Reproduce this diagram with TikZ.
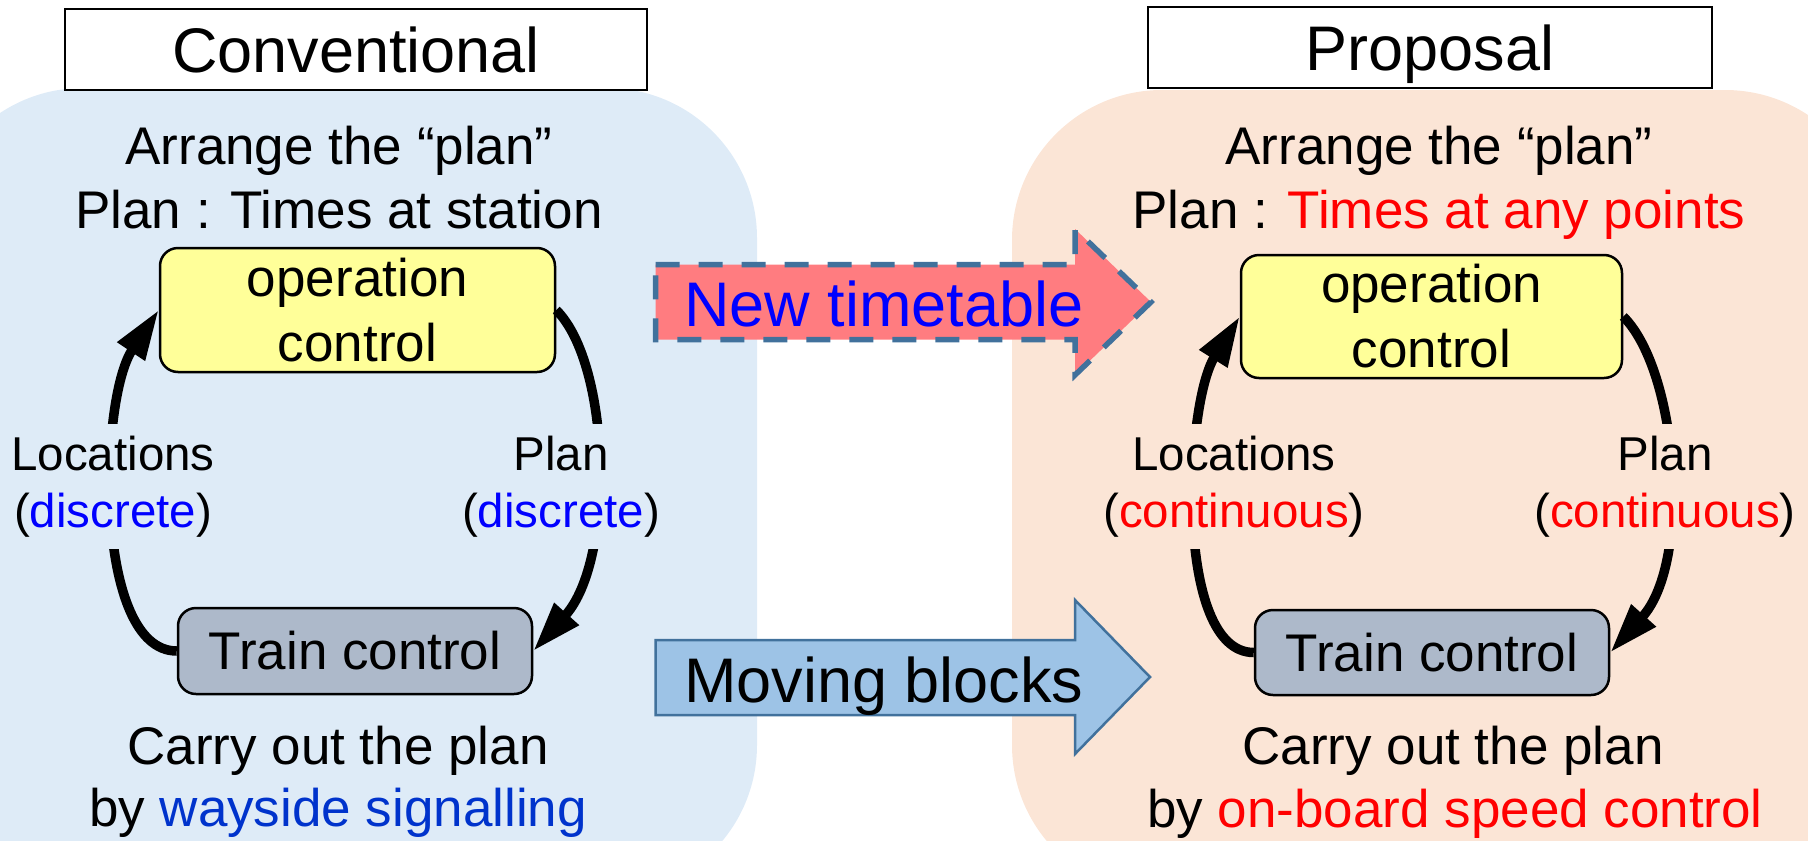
\documentclass[tikz,border=0pt]{standalone}
\usepackage{fontspec}
\setmainfont{Liberation Sans}
\usetikzlibrary{arrows.meta}

\definecolor{panelblue}{HTML}{DEEBF7}
\definecolor{panelpeach}{HTML}{FBE5D6}
\definecolor{opyellow}{HTML}{FFFF99}
\definecolor{trainslate}{HTML}{ADB9CA}
\definecolor{edgeblue}{HTML}{41719C}
\definecolor{timered}{HTML}{FF7C80}
\definecolor{blockblue}{HTML}{9DC3E6}
\definecolor{sigblue}{HTML}{0033CC}

\begin{document}
\begin{tikzpicture}[x=1pt,y=-1pt,
  titlebox/.style={draw=black, line width=2pt, fill=white, inner sep=0pt,
    text height=45pt, text depth=0pt, font=\fontsize{63}{63}\selectfont},
  ctrlbox/.style={draw=black, line width=2.5pt, rounded corners=18pt, inner sep=0pt,
    align=center, font=\fontsize{53}{65}\selectfont},
  bigtext/.style={anchor=base, inner sep=0pt, font=\fontsize{53}{53}\selectfont},
  looplabel/.style={anchor=base, inner xsep=3pt, inner ysep=12pt,
    font=\fontsize{47.5}{47.5}\selectfont},
  looparrow/.style={line width=9.5pt, -{Triangle[length=50pt,width=31pt]}},
  arrowtext/.style={anchor=base, inner sep=0pt, font=\fontsize{63}{63}\selectfont},
]
\useasboundingbox (0,0) rectangle (1808,841);
\clip (0,0) rectangle (1808,841);

% background panels
\fill[panelblue, rounded corners=150pt] (-67,88) rectangle (757,895);
\fill[panelpeach, rounded corners=150pt] (1012,90) rectangle (1875,895);

% headings
\node[titlebox, minimum width=582pt, minimum height=81pt] (convT) at (356,49.5) {Conventional};
\node[titlebox, minimum width=564pt, minimum height=81pt] (propT) at (1430,47.5) {Proposal};

% ---- conventional side ----
\node[bigtext] (arrL) at (339,164) {Arrange the “plan”};
\node[bigtext] (planL) at (339,228) {Plan : Times at station};
\node[ctrlbox, fill=opyellow, minimum width=395pt, minimum height=124pt] (ocL) at (357.5,310) {operation\\control};
\node[ctrlbox, fill=trainslate, minimum width=354pt, minimum height=86pt] (tcL) at (355,651) {Train control};

\draw[looparrow] (tcL.west) .. controls +(-83,0) and +(-60,90) .. (ocL.west);
\draw[looparrow] (ocL.east) .. controls +(55,55) and +(82,-91) .. (tcL.east);

\node[looplabel, fill=panelblue] (locL1) at (113,470) {Locations};
\node[looplabel, fill=panelblue] (locL2) at (113,527) {(\textcolor{blue}{discrete})};
\node[looplabel, fill=panelblue] (plnL1) at (561,470) {Plan};
\node[looplabel, fill=panelblue] (plnL2) at (561,527) {(\textcolor{blue}{discrete})};

\node[bigtext] (carryL) at (338,764) {Carry out the plan};
\node[bigtext] (byL) at (338,826) {by \textcolor{sigblue}{wayside signalling}};

% ---- proposal side ----
\node[bigtext] (arrR) at (1439,164) {Arrange the “plan”};
\node[bigtext] (planR) at (1439,228) {Plan : \textcolor{red}{Times at any points}};
\node[ctrlbox, fill=opyellow, minimum width=381pt, minimum height=123pt] (ocR) at (1431.5,316.5) {operation\\control};
\node[ctrlbox, fill=trainslate, minimum width=354pt, minimum height=85pt] (tcR) at (1432,652.5) {Train control};

\draw[looparrow] (tcR.west) .. controls +(-80,0) and +(-55,88) .. (ocR.west);
\draw[looparrow] (ocR.east) .. controls +(55,55) and +(82,-91) .. (tcR.east);

\node[looplabel, fill=panelpeach] (locR1) at (1234,470) {Locations};
\node[looplabel, fill=panelpeach] (locR2) at (1234,527) {(\textcolor{red}{continuous})};
\node[looplabel, fill=panelpeach] (plnR1) at (1665,470) {Plan};
\node[looplabel, fill=panelpeach] (plnR2) at (1665,527) {(\textcolor{red}{continuous})};

\node[bigtext] (carryR) at (1453,764) {Carry out the plan};
\node[bigtext] (byR) at (1455,827) {by \textcolor{red}{on-board speed control}};

% ---- transition arrows ----
\draw[fill=timered, draw=edgeblue, line width=5.5pt, dash pattern=on 24pt off 19pt]
  (655.5,264.6) -- (1075,264.6) -- (1075,229) -- (1151,302) -- (1075,375)
  -- (1075,339.6) -- (655.5,339.6) -- cycle;
\node[arrowtext, text=blue] (newtt) at (884,326) {New timetable};

\draw[fill=blockblue, draw=edgeblue, line width=2.5pt]
  (655.5,640) -- (1075,640) -- (1075,600) -- (1150,677) -- (1075,754)
  -- (1075,715) -- (655.5,715) -- cycle;
\node[arrowtext] (moving) at (884,702) {Moving blocks};
\end{tikzpicture}
\end{document}
